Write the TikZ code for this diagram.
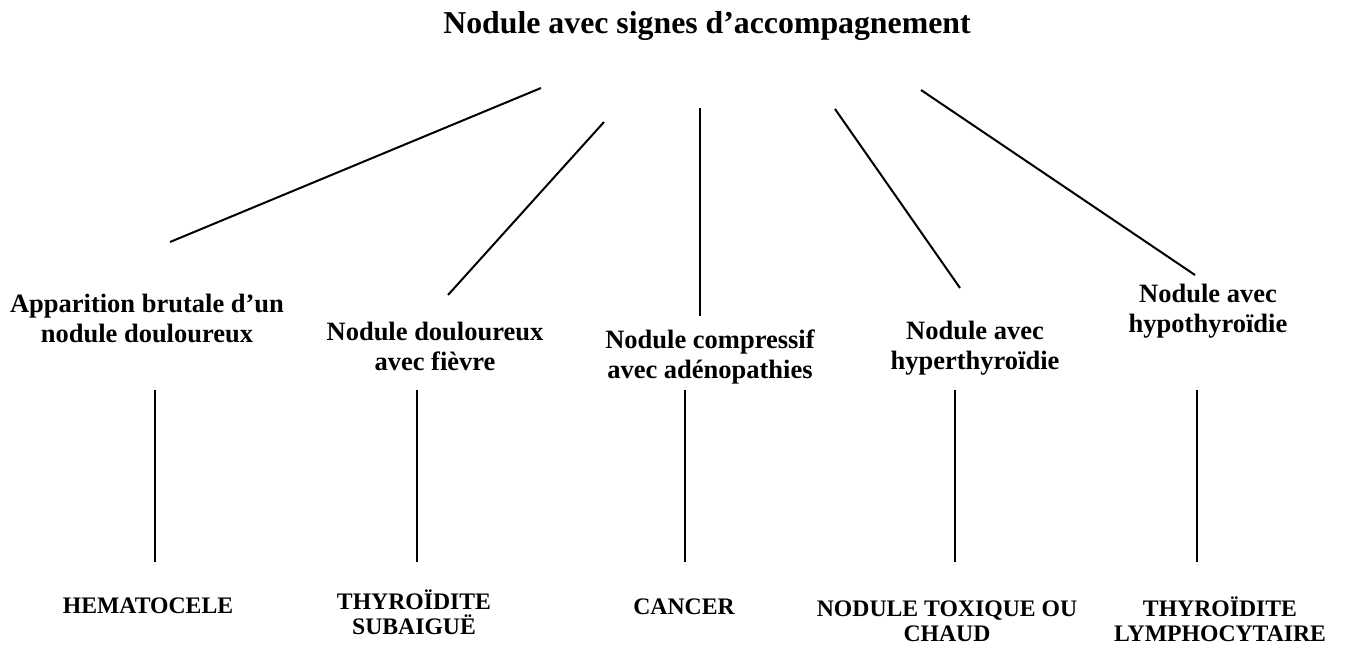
\documentclass[tikz,border=0pt]{standalone}
\usepackage{fontspec}
\setmainfont{Liberation Serif}
\begin{document}
\begin{tikzpicture}[x=0.5pt,y=-0.5pt,
	titre/.style={font=\fontsize{15.9}{19}\selectfont\bfseries,inner sep=0pt},
	signe/.style={font=\fontsize{13.25}{15}\selectfont\bfseries,align=center,inner sep=0pt},
	diag/.style={font=\fontsize{11.85}{12.5}\selectfont\bfseries,align=center,inner sep=0pt},
	trait/.style={line width=1pt}]
	\useasboundingbox (0,0) rectangle (1347,648);
	\node[titre] (titre) at (707,26) {Nodule avec signes d'accompagnement};
	\node[signe] (brutal) at (147,318) {Apparition brutale d'un\\nodule douloureux};
	\node[signe] (fievre) at (435,346) {Nodule douloureux\\avec fièvre};
	\node[signe] (compr) at (710,357) {Nodule compressif\\avec adénopathies};
	\node[signe] (hyper) at (975,348) {Nodule avec\\hyperthyroïdie};
	\node[signe] (hypo) at (1208,311) {Nodule avec\\hypothyroïdie};
	\node[diag] (hemato) at (148,606) {HEMATOCELE};
	\node[diag] (subaig) at (414,612) {THYROÏDITE\\SUBAIGUË};
	\node[diag] (cancer) at (684,607) {CANCER};
	\node[diag] (toxique) at (947,621) {NODULE TOXIQUE OU\\CHAUD};
	\node[diag] (lympho) at (1220,619) {THYROÏDITE\\LYMPHOCYTAIRE};
	\coordinate (h1) at (541,88);   \coordinate (b1) at (170,242);
	\coordinate (h2) at (604,122);  \coordinate (b2) at (448,295);
	\coordinate (h3) at (700,108);  \coordinate (b3) at (700,316);
	\coordinate (h4) at (835,109);  \coordinate (b4) at (960,288);
	\coordinate (h5) at (921,90);   \coordinate (b5) at (1195,275);
	\foreach \i in {1,...,5}
		\draw[trait] (h\i) -- (b\i);
	\foreach \i/\x in {1/155,2/417,3/685,4/955,5/1197}
		\draw[trait] (\x,390) coordinate (v\i) -- (\x,562);
\end{tikzpicture}
\end{document}
